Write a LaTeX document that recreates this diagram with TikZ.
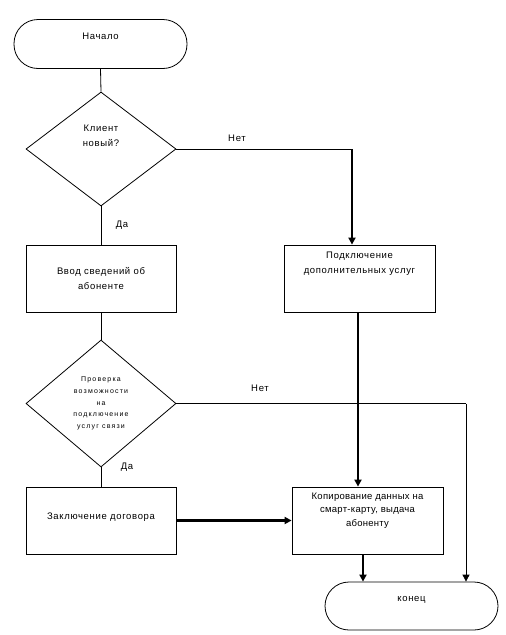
\documentclass[tikz,border=0pt]{standalone}
\usepackage{fontspec}
\setmainfont{Liberation Sans}
\usetikzlibrary{shapes.geometric,arrows.meta}
\begin{document}
\begin{tikzpicture}[x=1pt,y=-1pt,
  every node/.style={font=\fontsize{9.5}{14.5}\selectfont\addfontfeature{LetterSpace=7}},
  thin line/.style={draw=black,line width=0.8pt},
  thick line/.style={draw=black,line width=2.4pt},
  arrowtip/.style={-{Triangle[length=7pt,width=7pt]}},
  boxshape/.style={draw=black,line width=0.8pt,rectangle,minimum width=150pt,minimum height=67pt,inner sep=0pt},
  terminal/.style={draw=black,line width=0.8pt,rectangle,rounded corners=24pt,minimum width=173pt,minimum height=49pt,inner sep=0pt},
  decision/.style={draw=black,line width=0.8pt,diamond,minimum width=150pt,inner sep=0pt},
  txt/.style={align=center,inner sep=0pt},
  small/.style={font=\fontsize{7}{11.8}\selectfont\addfontfeature{LetterSpace=17}},
  lbl/.style={inner sep=0pt}]
\useasboundingbox (0,0) rectangle (506,635);
% shapes
\node[terminal] (start) at (100.5,44) {};
\node[txt] (starttext) at (100.5,36) {Начало};
\node[decision,minimum height=114pt] (d1) at (101,149) {};
\node[txt] (d1text) at (101,136) {Клиент\\новый?};
\node[boxshape] (b1) at (101,278.5) {};
\node[txt] (b1text) at (101,278.5) {Ввод сведений об\\абоненте};
\node[boxshape,minimum width=151pt] (b2) at (359.5,278.5) {};
\node[txt] (b2text) at (359.5,263.5) {Подключение\\дополнительных услуг};
\node[decision,minimum height=127pt] (d2) at (101,403.5) {};
\node[txt,small] (d2text) at (101,403.5) {Проверка\\возможности\\на\\подключение\\услуг связи};
\node[boxshape] (b4) at (101,520.5) {};
\node[txt] (b4text) at (101,517) {Заключение договора};
\node[boxshape,minimum width=151pt] (b3) at (367.5,520.5) {};
\node[txt,font=\fontsize{9.5}{13.5}\selectfont\addfontfeature{LetterSpace=3}] (b3text) at (367.5,510.5) {Копирование данных на\\смарт-карту, выдача\\абоненту};
\node[terminal,minimum height=48pt] (end) at (411.5,606) {};
\node[txt] (endtext) at (411.5,600) {конец};
% helper coordinates
\coordinate (c1) at (352,149);
\coordinate (c2) at (358,0);
\coordinate (c3) at (466,403.5);
\coordinate (c4) at (363,0);
% connectors
\draw[thin line] (start.south) -- (d1.north);
\draw[thin line] (d1.east) -- (c1);
\draw[thick line,arrowtip] (c1) -- (c1 |- b2.north);
\node[lbl] (no1) at (237,138) {Нет};
\draw[thin line] (d1.south) -- (b1.north);
\node[lbl] (yes1) at (122,225) {Да};
\draw[thin line] (b1.south) -- (d2.north);
\draw[thick line,arrowtip] (c2 |- b2.south) -- (c2 |- b3.north);
\draw[thin line] (d2.east) -- (c3);
\draw[thin line,arrowtip] (c3) -- (c3 |- end.north);
\node[lbl] (no2) at (260,388) {Нет};
\draw[thin line] (d2.south) -- (b4.north);
\node[lbl] (yes2) at (127,467) {Да};
\draw[thick line,arrowtip] (b4.east) -- (b3.west);
\draw[thick line,arrowtip] (c4 |- b3.south) -- (c4 |- end.north);
\end{tikzpicture}
\end{document}
